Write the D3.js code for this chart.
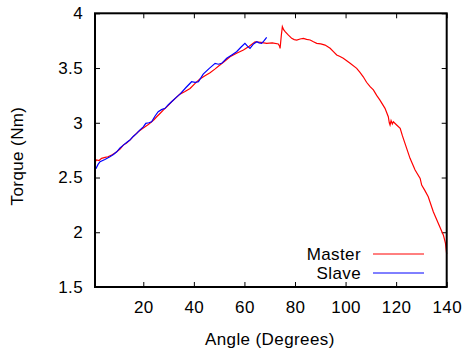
<!DOCTYPE html>
<html>
<head>
<meta charset="utf-8">
<script src="https://cdn.jsdelivr.net/npm/d3@7"></script>
<style>
  html, body { margin: 0; padding: 0; background: #fff; }
  svg { display: block; }
  text { font-family: "Liberation Sans", Arial, sans-serif; font-size: 17px; letter-spacing: 0.4px; fill: #000; }
</style>
</head>
<body>
<svg id="chart" width="465" height="349"></svg>
<script>
// Torque measured against joint angle for the master and slave arms
const masterData = [
  [0.9,2.64],[1.5,2.66],[2.5,2.655],[3.5,2.675],[4.9,2.684],[6,2.69],[7.5,2.705],[8.5,2.72],
  [9.5,2.735],[10.8,2.76],[12.1,2.796],[13.4,2.815],[14.7,2.842],[16.3,2.88],[18.0,2.918],
  [19.3,2.94],[20.7,2.963],[22,2.985],[23.3,3.009],[24.3,3.03],[25.3,3.055],[26.6,3.085],
  [27.9,3.116],[29.5,3.15],[31.2,3.192],[32.8,3.225],[34.5,3.262],[36.5,3.285],[38.5,3.314],
  [40.5,3.36],[42.4,3.40],[44.4,3.43],[46.4,3.457],[48.3,3.49],[50.3,3.527],[52.3,3.565],
  [54.3,3.603],[56.9,3.635],[59.6,3.665],[61.9,3.70],[64.2,3.74],[66.5,3.735],[68.8,3.726],
  [71,3.73],[73.4,3.72],[73.9,3.70],[74.1,3.68],[74.6,3.80],[75.0,3.878],[75.5,3.85],
  [76.1,3.832],[77.4,3.80],[78.7,3.771],[79.7,3.76],[80.7,3.756],[82,3.765],[83.3,3.771],
  [84.6,3.762],[86.0,3.756],[87.3,3.74],[88.6,3.726],[90.2,3.72],[91.9,3.71],[93.9,3.68],
  [95.2,3.65],[96.5,3.619],[97.8,3.605],[99.1,3.589],[101.8,3.543],[104.4,3.497],[105.7,3.46],
  [107.0,3.42],[108.3,3.37],[109.7,3.33],[111.0,3.30],[112.3,3.25],[113.6,3.207],[115.6,3.132],
  [116.9,3.055],[117.3,3.0],[117.6,2.979],[118.0,3.02],[118.5,2.99],[118.9,3.009],[120.2,2.98],
  [121.6,2.949],[122.5,2.88],[123.5,2.812],[125.5,2.675],[127.5,2.568],[129.5,2.492],
  [130.1,2.431],[131.4,2.38],[132.7,2.324],[134.7,2.187],[136.7,2.08],[138.7,1.973],
  [139.5,1.90],[140,1.80]
];

const slaveData = [
  [0.9,2.58],[1.3,2.583],[2.1,2.62],[2.9,2.644],[4.8,2.665],[6.8,2.689],[8.2,2.71],[9.5,2.735],
  [10.8,2.77],[12.1,2.796],[13.4,2.82],[14.7,2.842],[16,2.875],[17.4,2.903],[18.7,2.935],
  [20.0,2.963],[21,2.995],[22.2,3.0],[23.3,3.009],[24.6,3.06],[25.9,3.101],[27.2,3.12],
  [28.6,3.132],[29.9,3.165],[31.2,3.192],[32.9,3.23],[34.5,3.262],[36.8,3.32],[39.1,3.375],
  [40.5,3.37],[41.8,3.375],[43.7,3.445],[46,3.495],[48.4,3.543],[49.7,3.535],[51.0,3.543],
  [53.0,3.589],[55,3.62],[56.9,3.649],[58.6,3.69],[60.2,3.726],[61.2,3.70],[62.2,3.68],
  [63.6,3.72],[64.9,3.74],[65.8,3.73],[66.8,3.726],[67.8,3.75],[68.8,3.78]
];

const seriesNames = ["Master", "Slave"];
const seriesColors = ["#ff0000", "#0000ff"];
const xTicks = [20, 40, 60, 80, 100, 120, 140];
const yTicks = [1.5, 2, 2.5, 3, 3.5, 4];
const yTickLabels = ["1.5", "2", "2.5", "3", "3.5", "4"];

const svg = d3.select("#chart");
const plotLeft = 95, plotRight = 446.7, plotTop = 13.3, plotBottom = 287;

const x = d3.scaleLinear().domain([0.9, 140]).range([plotLeft, plotRight]);
const y = d3.scaleLinear().domain([1.5, 4]).range([plotBottom, plotTop]);

const tickLen = 5;

// inward ticks on all four sides
const axisBottom = d3.axisBottom(x).tickValues(xTicks).tickSize(-tickLen).tickPadding(14).tickFormat(d3.format("d"));
const axisTop = d3.axisTop(x).tickValues(xTicks).tickSize(-tickLen).tickFormat("");
const axisLeft = d3.axisLeft(y).tickValues(yTicks).tickSize(-tickLen).tickPadding(12)
  .tickFormat((d, i) => yTickLabels[i]);
const axisRight = d3.axisRight(y).tickValues(yTicks).tickSize(-tickLen).tickFormat("");

function styleAxis(g) {
  g.select(".domain").remove();
  g.selectAll(".tick line").attr("stroke", "#000").attr("stroke-width", 1);
  g.selectAll(".tick text").attr("fill", "#000").style("font-size", "17px")
    .style("letter-spacing", "0.4px")
    .style("font-family", "'Liberation Sans', Arial, sans-serif");
}

svg.append("g").attr("transform", `translate(0,${plotBottom})`).call(axisBottom).call(styleAxis);
svg.append("g").attr("transform", `translate(0,${plotTop})`).call(axisTop).call(styleAxis);
svg.append("g").attr("transform", `translate(${plotLeft},0)`).call(axisLeft).call(styleAxis);
svg.append("g").attr("transform", `translate(${plotRight},0)`).call(axisRight).call(styleAxis);

// data curves
const line = d3.line().x(d => x(d[0])).y(d => y(d[1]));
const plot = svg.append("g");
plot.append("path").datum(masterData).attr("d", line)
  .attr("fill", "none").attr("stroke", seriesColors[0]).attr("stroke-width", 1.2);
plot.append("path").datum(slaveData).attr("d", line)
  .attr("fill", "none").attr("stroke", seriesColors[1]).attr("stroke-width", 1.2);

// plot frame
svg.append("rect")
  .attr("x", plotLeft).attr("y", plotTop)
  .attr("width", plotRight - plotLeft).attr("height", plotBottom - plotTop)
  .attr("fill", "none").attr("stroke", "#000").attr("stroke-width", 2);

// legend
const legendRows = [254, 273];
seriesNames.forEach((name, i) => {
  svg.append("text").attr("x", 361).attr("y", legendRows[i] + 6)
    .attr("text-anchor", "end").text(name);
  svg.append("line").attr("x1", 373).attr("x2", 424)
    .attr("y1", legendRows[i]).attr("y2", legendRows[i])
    .attr("stroke", seriesColors[i]).attr("stroke-width", 1);
});

// axis titles
svg.append("text").attr("x", (plotLeft + plotRight) / 2 - 1).attr("y", 345)
  .attr("text-anchor", "middle").text("Angle (Degrees)");
svg.append("text").attr("transform", "translate(23,156) rotate(-90)")
  .attr("text-anchor", "middle").text("Torque (Nm)");
</script>
</body>
</html>
